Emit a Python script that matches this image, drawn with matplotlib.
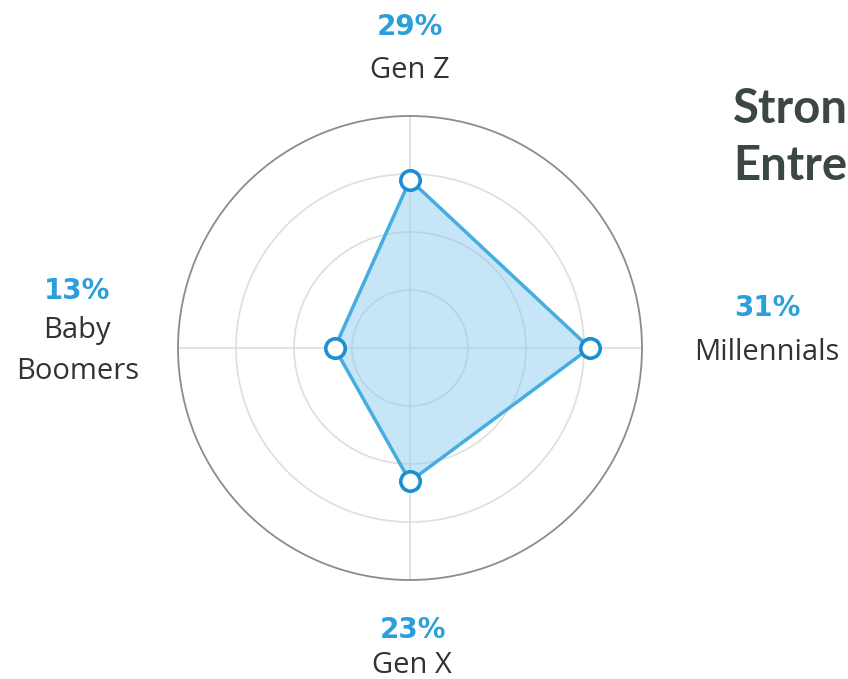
import numpy as np
import matplotlib
matplotlib.use("Agg")
from matplotlib import pyplot as plt

# data
groups = ["Gen Z", "Millennials", "Gen X", "Baby Boomers"]
shares = [29, 31, 23, 13]
pct_labels = ["29%", "31%", "23%", "13%"]
rings = [10, 20, 30]

W, H = 848, 679
fig = plt.figure(figsize=(W / 100, H / 100), dpi=100)

# polar axes: centre (410, 348) px, radius 232 px for r = 40
cx, cy, R = 410, 348, 232
ax = fig.add_axes([(cx - R) / W, 1 - (cy + R) / H, 2 * R / W, 2 * R / H], projection="polar")
ax.set_theta_zero_location("N")
ax.set_theta_direction(-1)

theta = np.deg2rad([0, 90, 180, 270])
th = np.append(theta, theta[0])
vals = np.append(shares, shares[0])

ax.fill(th, vals, color="#8ecdef", alpha=0.5, zorder=2)
ax.plot(th, vals, color="#45ade0", lw=2.5, zorder=3)
ax.plot(theta, shares, "o", ms=14, mfc="white", mec="#1b8fd0", mew=2.6, zorder=4)

ax.set_ylim(0, 40)
ax.set_yticks(rings)
ax.set_yticklabels([])
ax.set_xticks(theta)
ax.set_xticklabels([])
ax.grid(True, color="#dedede", lw=1.2)
ax.spines["polar"].set_color("#8c8c8c")
ax.spines["polar"].set_linewidth(1.3)
ax.tick_params(length=0)

blue = "#2b9fd9"
grey = "#333333"

def put(x, y, s, **kw):
    fig.text(x / W, 1 - y / H, s, ha="center", va="baseline", **kw)

pct_kw = dict(color=blue, fontsize=20, fontweight="bold", family="DejaVu Sans")
lab_kw = dict(color=grey, fontsize=21, family="Open Sans")

put(410, 35, pct_labels[0], **pct_kw)
put(410, 78, groups[0], **lab_kw)

put(767, 316, pct_labels[1], **pct_kw)
put(767, 360, groups[1], **lab_kw)

put(413, 638, pct_labels[2], **pct_kw)
put(412, 673, groups[2], **lab_kw)

put(77, 299, pct_labels[3], **pct_kw)
put(77, 338, "Baby", **lab_kw)
put(78, 379, "Boomers", **lab_kw)

title_kw = dict(color="#3b4646", fontsize=34, fontweight="bold", family="Lato", ha="left", va="baseline")
fig.text(733 / W, 1 - 123 / H, "Stron", **title_kw)
fig.text(733 / W, 1 - 180 / H, "Entre", **title_kw)

fig.savefig("out.png", dpi=100, facecolor="white")
